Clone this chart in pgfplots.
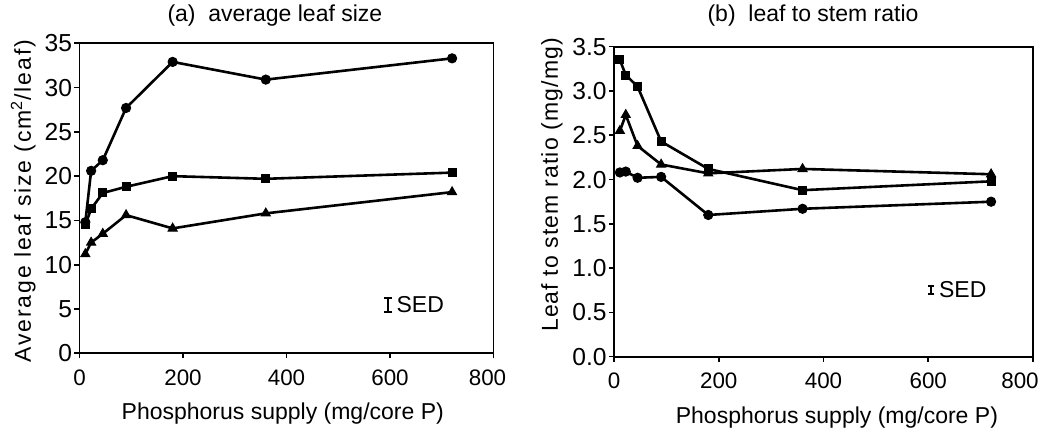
\documentclass[border=0pt]{standalone}
\usepackage{fontspec}
\setmainfont{Liberation Sans}
\newfontfamily\spacedA[LetterSpace=8]{Liberation Sans}
\newfontfamily\spacedB[LetterSpace=5]{Liberation Sans}
\usepackage{pgfplots}
\pgfplotsset{compat=1.18}

\pgfplotstableread{
x      c     s     t
11.25  14.8  14.5  11.2
22.5   20.6  16.3  12.5
45     21.8  18.1  13.5
90     27.7  18.8  15.6
180    32.9  20.0  14.1
360    30.9  19.7  15.8
720    33.3  20.4  18.2
}\leafsize

\pgfplotstableread{
x      c     s     t
11.25  2.08  3.35  2.55
22.5   2.09  3.18  2.73
45     2.02  3.05  2.38
90     2.03  2.43  2.17
180    1.60  2.12  2.07
360    1.67  1.88  2.12
720    1.75  1.98  2.06
}\ratio

\begin{document}
\begin{tikzpicture}
\pgfplotsset{
  panel/.style={
    scale only axis,
    xmin=0, xmax=800, xtick={0,200,400,600,800},
    axis line style={line width=0.9pt},
    tick style={black, line width=0.8pt},
    tick align=outside, major tick length=2.5pt,
    tick pos=left,
    /pgf/number format/assume math mode=true,
    xticklabel style={font=\fontsize{11.2}{13}\selectfont, yshift=-2pt},
    yticklabel style={font=\fontsize{12.3}{14}\selectfont, inner xsep=1pt},
    title style={font=\fontsize{11.5}{13}\selectfont, anchor=center},
    label style={font=\fontsize{11.5}{13}\selectfont},
  },
  ser/.style={black, line width=1.3pt, mark options={solid, fill=black, line width=0.5pt}},
}
\path[use as bounding box] (-39.75pt,-39.85pt) rectangle (482.75pt,176.65pt);

\begin{axis}[panel, at={(0pt,0pt)}, anchor=south west,
  width=207pt, height=155pt,
  ymin=0, ymax=35, ytick={0,5,...,35},
  xticklabels={0,200,400,600,{\hspace{-6pt}800}},
  title={(a)\ \ average leaf size},
  title style={at={(axis description cs:0.472,1.052)}},
  xlabel={Phosphorus supply (mg/core P)},
  xlabel style={at={(axis description cs:0.491,-0.193)}, anchor=center},
  ylabel={\spacedA Average leaf size (cm\textsuperscript{2}/leaf)},
  ylabel style={at={(axis description cs:-0.136,0.491)}, anchor=center, rotate=0},
]
\addplot[ser, mark=*, mark size=2.3pt] table[x=x, y=c] {\leafsize};
\addplot[ser, mark=square*, mark size=2.0pt] table[x=x, y=s] {\leafsize};
\addplot[ser, mark=triangle*, mark size=2.6pt] table[x=x, y=t] {\leafsize};
\addplot[draw=none, mark=none, forget plot,
  error bars/.cd, y dir=both, y explicit,
  error bar style={line width=1pt, black},
  error mark options={rotate=90, mark size=2pt, line width=1pt, black}]
  coordinates {(597,5.45) +- (0,0.8)};
\node[anchor=west, font=\fontsize{11.5}{13}\selectfont, inner sep=0pt] at (axis cs:612,5.45) {SED};
\end{axis}

\begin{axis}[panel, at={(267.25pt,-1.7pt)}, anchor=south west,
  width=209.5pt, height=155pt,
  ymin=0, ymax=3.5, ytick={0,0.5,...,3.5},
  xticklabels={0,200,400,600,{\hspace{-13pt}800}},
  yticklabel style={/pgf/number format/.cd, fixed, fixed zerofill, precision=1},
  title={(b)\ \ leaf to stem ratio},
  title style={at={(axis description cs:0.475,1.063)}},
  xlabel={Phosphorus supply (mg/core P)},
  xlabel style={at={(axis description cs:0.532,-0.195)}, anchor=center},
  ylabel={\spacedB Leaf to stem ratio (mg/mg)},
  ylabel style={at={(axis description cs:-0.148,0.554)}, anchor=center, rotate=0},
]
\addplot[ser, mark=*, mark size=2.3pt] table[x=x, y=c] {\ratio};
\addplot[ser, mark=square*, mark size=2.0pt] table[x=x, y=s] {\ratio};
\addplot[ser, mark=triangle*, mark size=2.6pt] table[x=x, y=t] {\ratio};
\addplot[draw=none, mark=none, forget plot,
  error bars/.cd, y dir=both, y explicit,
  error bar style={line width=1pt, black},
  error mark options={rotate=90, mark size=1.5pt, line width=1pt, black}]
  coordinates {(606,0.753) +- (0,0.04)};
\node[anchor=west, font=\fontsize{11.5}{13}\selectfont, inner sep=0pt] at (axis cs:620,0.753) {SED};
\end{axis}
\end{tikzpicture}
\end{document}
